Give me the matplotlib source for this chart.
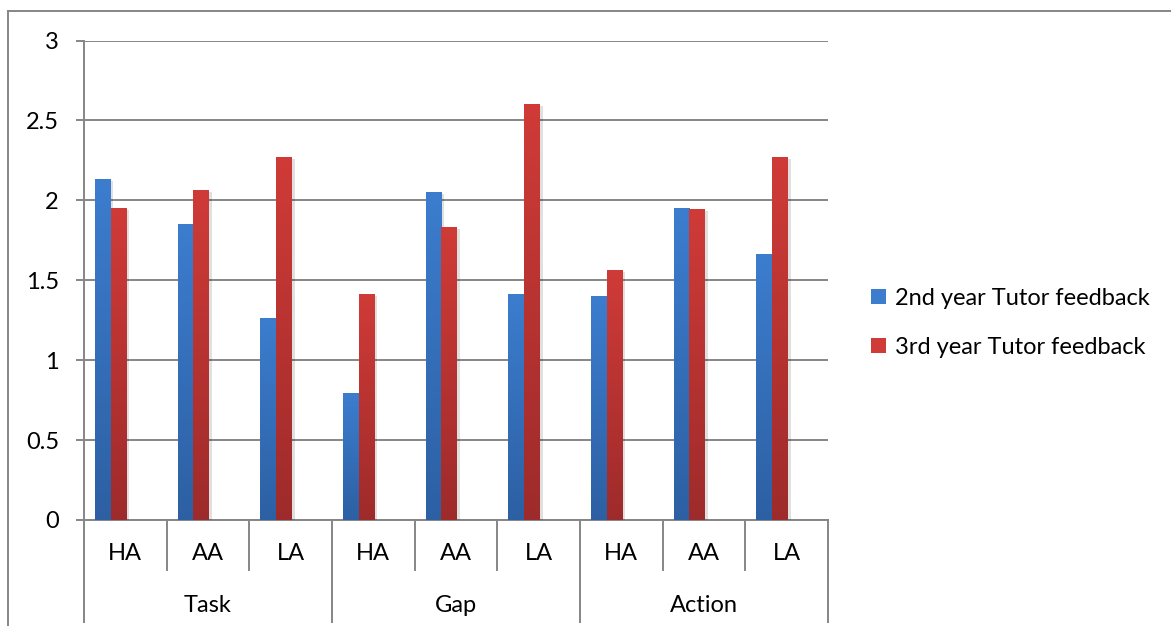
import numpy as np
import matplotlib.pyplot as plt
import matplotlib.transforms as mtransforms
import matplotlib.patheffects as pe
from matplotlib.lines import Line2D
from matplotlib.patches import Patch

# Chart data
groups = ["Task", "Gap", "Action"]
levels = ["HA", "AA", "LA"]
second_year = [2.13, 1.85, 1.26, 0.79, 2.05, 1.41, 1.40, 1.95, 1.66]
third_year = [1.95, 2.06, 2.27, 1.41, 1.83, 2.60, 1.56, 1.945, 2.27]
series_names = ["2nd year Tutor feedback", "3rd year Tutor feedback"]
y_ticks = [0, 0.5, 1, 1.5, 2, 2.5, 3]
y_tick_labels = ["0", "0.5", "1", "1.5", "2", "2.5", "3"]

FONT = "Lato"
FS = 17
GRAY = "#868686"

W, H = 1171, 626
fig = plt.figure(figsize=(W / 100, H / 100), dpi=100)
ax = fig.add_axes([84 / W, (H - 520) / H, (828 - 84) / W, 479.5 / H])

# vertical gradient colour ramps (top colour, bottom colour)
ramps = [((0.235, 0.490, 0.808), (0.176, 0.376, 0.640)),
         ((0.812, 0.231, 0.216), (0.620, 0.169, 0.169))]

def gradient(top, bottom, n=64):
    t = np.linspace(0, 1, n)[:, None]
    top = np.array(top)
    bottom = np.array(bottom)
    return (top * (1 - t) + bottom * t)[:, None, :]

n = len(second_year)
slots = np.arange(n)
bar_w = 0.19
offset = 0.133
for s, vals in enumerate([second_year, third_year]):
    top_c, bot_c = ramps[s]
    img = gradient(top_c, bot_c)
    x0s = slots + offset + s * bar_w
    bars = ax.bar(x0s, vals, width=bar_w, align="edge", color=top_c,
                  linewidth=0, zorder=3)
    for b in bars:
        b.set_path_effects([pe.SimplePatchShadow(offset=(2, -1), shadow_rgbFace="#000000", alpha=0.12),
                            pe.Normal()])
        x0, h = b.get_x(), b.get_height()
        ax.imshow(img, extent=[x0, x0 + bar_w, 0, h], aspect="auto",
                  zorder=4, interpolation="bilinear")

ax.set_xlim(0, n)
ax.set_ylim(0, 3)

# axes styling
for side in ["top", "right"]:
    ax.spines[side].set_visible(False)
for side in ["left", "bottom"]:
    ax.spines[side].set_color(GRAY)
    ax.spines[side].set_linewidth(1.4)
ax.set_yticks(y_ticks)
ax.set_yticklabels(y_tick_labels, fontfamily=FONT, fontsize=FS)
ax.tick_params(axis="y", length=6, width=1.4, color=GRAY, pad=12)
ax.set_xticks([])
ax.yaxis.grid(True, color=GRAY, linewidth=1.4, zorder=0)
ax.set_axisbelow(True)

# two-level category axis
trans = mtransforms.blended_transform_factory(ax.transData, ax.transAxes)
for i in range(n):
    ax.text(i + 0.5, -0.069, levels[i % 3], transform=trans, ha="center",
            va="center", fontfamily=FONT, fontsize=FS)
for i in range(1, n):
    if i % 3:
        ax.add_line(Line2D([i, i], [0, -0.104], transform=trans, color=GRAY,
                           linewidth=1.4, clip_on=False))
for g in range(len(groups) + 1):
    ax.add_line(Line2D([3 * g, 3 * g], [0, -0.213], transform=trans, color=GRAY,
                       linewidth=1.4, clip_on=False))
for g, name in enumerate(groups):
    ax.text(3 * g + 1.5, -0.178, name, transform=trans, ha="center",
            va="center", fontfamily=FONT, fontsize=FS)

# legend
handles = [Patch(facecolor=ramps[0][0]), Patch(facecolor=ramps[1][0])]
leg = fig.legend(handles, series_names, loc="center left",
                 bbox_to_anchor=(871 / W, 1 - 323 / H), frameon=False,
                 prop={"family": FONT, "size": FS}, handlelength=0.62,
                 handleheight=0.62, handletextpad=0.4, labelspacing=1.18,
                 borderpad=0, borderaxespad=0)

# chart border
fig.add_artist(Line2D([8 / W, 1], [1 - 11 / H] * 2, color=GRAY, linewidth=1.4))
fig.add_artist(Line2D([8 / W] * 2, [1 - 11 / H, 0], color=GRAY, linewidth=1.4))

fig.savefig("out.png", dpi=100)
